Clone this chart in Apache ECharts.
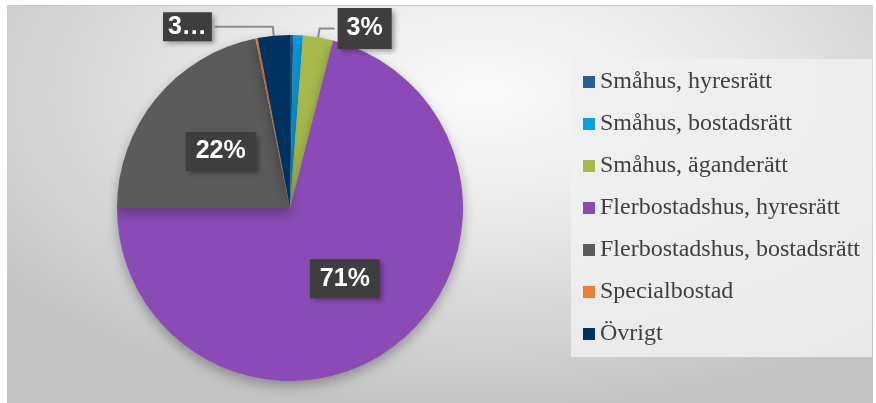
<!DOCTYPE html>
<html>
<head>
<meta charset="utf-8">
<script src="https://cdn.jsdelivr.net/npm/echarts@6/dist/echarts.min.js"></script>
<style>
  html, body { margin: 0; padding: 0; background: #fff; }
  #chart {
    position: absolute;
    left: 7px;
    top: 5px;
    width: 866px;
    height: 398px;
    border-top: 1px solid #c8c8c8;
    background: radial-gradient(ellipse 70% 80% at 55% 22%, #fbfbfb 0%, #e6e6e6 45%, #c3c3c3 100%);
  }
</style>
</head>
<body>
<div id="chart"></div>
<script>
  // kategorier och andelar (procent)
  const categories = [
    'Småhus, hyresrätt',
    'Småhus, bostadsrätt',
    'Småhus, äganderätt',
    'Flerbostadshus, hyresrätt',
    'Flerbostadshus, bostadsrätt',
    'Specialbostad',
    'Övrigt'
  ]
  const values = [0.3, 0.9, 2.8, 71.0, 21.8, 0.2, 3.0]
  const labelTexts = ['', '', '3%', '71%', '22%', '', '3…']
  const labelPlaces = ['none', 'none', 'outside', 'inside', 'inside', 'none', 'outside']

  const colors = ['#255e9f', '#0ba0e0', '#a6b94b', '#8a4bb6', '#5b5b5b', '#ed7d31', '#00325f']

  // etikettrutans luft, per index (Excel krymper "3…")
  const pads = {
    2: [8, 9],
    3: [7, 10],
    4: [7, 10],
    6: [2, 5]
  }
  const lineLen2 = { 2: 15, 6: 58 }

  let data = categories.map((name, i) => {
    let place = labelPlaces[i]
    let item = {
      name: name,
      value: values[i],
      itemStyle: { color: colors[i] }
    }
    if (place === 'none') {
      item.label = { show: false }
      item.labelLine = { show: false }
    } else {
      item.label = {
        show: true,
        position: place,
        padding: pads[i]
      }
      item.labelLine = {
        show: place === 'outside',
        length: 9,
        length2: lineLen2[i] || 10
      }
    }
    return item
  })

  let myChart = echarts.init(document.getElementById('chart'))
  myChart.setOption({
    animation: false,
    color: colors,
    legend: {
      orient: 'vertical',
      left: 564,
      top: 53,
      padding: [11, 12, 11, 12],
      backgroundColor: 'rgba(240,240,240,0.85)',
      itemWidth: 12,
      itemHeight: 12,
      itemGap: 18,
      icon: 'rect',
      selectedMode: false,
      textStyle: {
        fontFamily: 'Liberation Serif',
        fontSize: 24,
        color: '#404040'
      },
      data: categories
    },
    series: [{
      type: 'pie',
      center: [283, 202],
      radius: 173,
      startAngle: 90,
      clockwise: true,
      avoidLabelOverlap: false,
      itemStyle: {
        shadowBlur: 12,
        shadowOffsetY: 5,
        shadowColor: 'rgba(0,0,0,0.3)'
      },
      label: {
        formatter: p => labelTexts[p.dataIndex],
        color: '#fff',
        fontFamily: 'Liberation Sans',
        fontWeight: 'bold',
        fontSize: 25,
        lineHeight: 25,
        backgroundColor: '#3e3e3e',
        distanceToLabelLine: 3,
        shadowBlur: 5,
        shadowOffsetX: 3,
        shadowOffsetY: 3,
        shadowColor: 'rgba(0,0,0,0.35)'
      },
      labelLine: {
        lineStyle: { color: '#8c8c8c', width: 2 }
      },
      emphasis: { disabled: true },
      data: data
    }]
  })
</script>
</body>
</html>
